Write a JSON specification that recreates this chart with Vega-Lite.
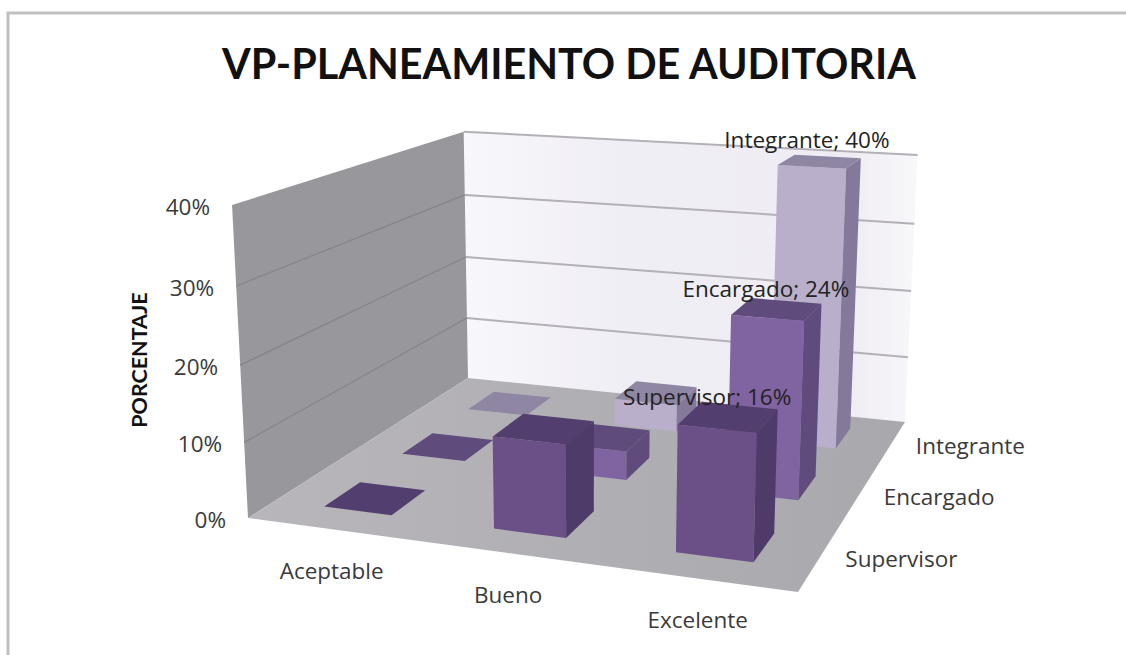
{
  "$schema": "https://vega.github.io/schema/vega-lite/v6.json",
  "autosize": "none",
  "width": 1123,
  "height": 647,
  "padding": {"left": 8, "top": 13, "right": -5, "bottom": -5},
  "background": "white",
  "view": {"stroke": "#c0c0c0", "strokeWidth": 3, "fill": "white"},
  "title": {"text": "VP-PLANEAMIENTO DE AUDITORIA", "anchor": "start", "frame": "group", "offset": -74, "dx": 214, "fontSize": 41.3, "font": "Lato", "fontWeight": "bold", "color": "#111111"},
  "datasets": {
    "barras": [
      {"categoria": "Aceptable", "serie": "Integrante", "valor": 0},
      {"categoria": "Bueno", "serie": "Integrante", "valor": 4},
      {"categoria": "Excelente", "serie": "Integrante", "valor": 40},
      {"categoria": "Aceptable", "serie": "Encargado", "valor": 0},
      {"categoria": "Bueno", "serie": "Encargado", "valor": 4},
      {"categoria": "Excelente", "serie": "Encargado", "valor": 24},
      {"categoria": "Aceptable", "serie": "Supervisor", "valor": 0},
      {"categoria": "Bueno", "serie": "Supervisor", "valor": 12},
      {"categoria": "Excelente", "serie": "Supervisor", "valor": 16}
    ],
    "planos": [
      {"plano": "izquierda", "punto": 0, "U": 0, "V": 0, "H": 0},
      {"plano": "izquierda", "punto": 1, "U": 0, "V": 1, "H": 0},
      {"plano": "izquierda", "punto": 2, "U": 0, "V": 1, "H": 1},
      {"plano": "izquierda", "punto": 3, "U": 0, "V": 0, "H": 1},
      {"plano": "fondo", "punto": 0, "U": 0, "V": 1, "H": 0},
      {"plano": "fondo", "punto": 1, "U": 1, "V": 1, "H": 0},
      {"plano": "fondo", "punto": 2, "U": 1, "V": 1, "H": 1},
      {"plano": "fondo", "punto": 3, "U": 0, "V": 1, "H": 1},
      {"plano": "piso", "punto": 0, "U": 0, "V": 0, "H": 0},
      {"plano": "piso", "punto": 1, "U": 1, "V": 0, "H": 0},
      {"plano": "piso", "punto": 2, "U": 1, "V": 1, "H": 0},
      {"plano": "piso", "punto": 3, "U": 0, "V": 1, "H": 0}
    ],
    "niveles": [
      {"nivel": 0, "etiqueta": "0%"},
      {"nivel": 10, "etiqueta": "10%"},
      {"nivel": 20, "etiqueta": "20%"},
      {"nivel": 30, "etiqueta": "30%"},
      {"nivel": 40, "etiqueta": "40%"}
    ]
  },
  "encoding": {
    "x": {"field": "px", "type": "quantitative", "axis": null, "scale": {"domain": [8, 1131], "nice": false, "zero": false}},
    "y": {"field": "py", "type": "quantitative", "axis": null, "scale": {"domain": [660, 13], "nice": false, "zero": false}}
  },
  "layer": [
    {
      "data": {"name": "planos"},
      "transform": [
        {"filter": "datum.plano == 'fondo'"},
        {"calculate": "1-0.103*datum.U+0.2838*datum.V-0.045*datum.H", "as": "w"},
        {"calculate": "(467.8*datum.U+352.8*datum.V-26.4*datum.H+248)/datum.w", "as": "px"},
        {"calculate": "(13*datum.U-32.7*datum.V-322.2*datum.H+518)/datum.w", "as": "py"}
      ],
      "mark": {"type": "line", "strokeWidth": 0, "fill": {"gradient": "linear", "x1": 0, "y1": 0, "x2": 1, "y2": 0, "stops": [{"offset": 0, "color": "#f8f7fb"}, {"offset": 0.35, "color": "#f0eef5"}, {"offset": 0.85, "color": "#efedf3"}, {"offset": 1, "color": "#f8f7fa"}]}},
      "encoding": {"order": {"field": "punto", "type": "quantitative"}}
    },
    {
      "data": {"name": "planos"},
      "transform": [
        {"filter": "datum.plano == 'izquierda'"},
        {"calculate": "1-0.103*datum.U+0.2838*datum.V-0.045*datum.H", "as": "w"},
        {"calculate": "(467.8*datum.U+352.8*datum.V-26.4*datum.H+248)/datum.w", "as": "px"},
        {"calculate": "(13*datum.U-32.7*datum.V-322.2*datum.H+518)/datum.w", "as": "py"}
      ],
      "mark": {"type": "line", "strokeWidth": 0, "fill": "#98979b"},
      "encoding": {"order": {"field": "punto", "type": "quantitative"}}
    },
    {
      "data": {"name": "planos"},
      "transform": [
        {"filter": "datum.plano == 'piso'"},
        {"calculate": "1-0.103*datum.U+0.2838*datum.V-0.045*datum.H", "as": "w"},
        {"calculate": "(467.8*datum.U+352.8*datum.V-26.4*datum.H+248)/datum.w", "as": "px"},
        {"calculate": "(13*datum.U-32.7*datum.V-322.2*datum.H+518)/datum.w", "as": "py"}
      ],
      "mark": {"type": "line", "strokeWidth": 0, "fill": {"gradient": "linear", "x1": 0, "y1": 0, "x2": 1, "y2": 0, "stops": [{"offset": 0, "color": "#b8b6bb"}, {"offset": 1, "color": "#a9a8ac"}]}},
      "encoding": {"order": {"field": "punto", "type": "quantitative"}}
    },
    {
      "data": {"name": "niveles"},
      "transform": [
        {"filter": "datum.nivel > 0"},
        {"calculate": "[0,1]", "as": "extremos"},
        {"flatten": ["extremos"], "as": ["extremo"]},
        {"calculate": "datum.nivel/40", "as": "H"},
        {"calculate": "datum.extremo", "as": "U"},
        {"calculate": "1-0.103*datum.U+0.2838-0.045*datum.H", "as": "w"},
        {"calculate": "(467.8*datum.U+352.8-26.4*datum.H+248)/datum.w", "as": "px"},
        {"calculate": "(13*datum.U-32.7-322.2*datum.H+518)/datum.w", "as": "py"}
      ],
      "mark": {"type": "line", "stroke": "#b3b0b8", "strokeWidth": 2},
      "encoding": {"detail": {"field": "nivel"}, "order": {"field": "extremo", "type": "quantitative"}}
    },
    {
      "data": {"name": "niveles"},
      "transform": [
        {"filter": "datum.nivel > 0 && datum.nivel < 40"},
        {"calculate": "[0,1]", "as": "extremos"},
        {"flatten": ["extremos"], "as": ["extremo"]},
        {"calculate": "datum.nivel/40", "as": "H"},
        {"calculate": "datum.extremo", "as": "V"},
        {"calculate": "1+0.2838*datum.V-0.045*datum.H", "as": "w"},
        {"calculate": "(352.8*datum.V-26.4*datum.H+248)/datum.w", "as": "px"},
        {"calculate": "(-32.7*datum.V-322.2*datum.H+518)/datum.w", "as": "py"}
      ],
      "mark": {"type": "line", "stroke": "#848387", "strokeWidth": 1.2},
      "encoding": {"detail": {"field": "nivel"}, "order": {"field": "extremo", "type": "quantitative"}}
    },
    {
      "data": {"name": "barras"},
      "transform": [
        {"calculate": "(indexof(['Aceptable','Bueno','Excelente'],datum.categoria)+0.5)/3", "as": "uc"},
        {"calculate": "(indexof(['Supervisor','Encargado','Integrante'],datum.serie)+0.5)/3+0.008", "as": "vc"},
        {"calculate": "datum.uc-0.0675", "as": "u0"},
        {"calculate": "datum.uc+0.0675", "as": "u1"},
        {"calculate": "datum.vc-0.073", "as": "v0"},
        {"calculate": "datum.vc+0.073", "as": "v1"},
        {"calculate": "datum.valor/40", "as": "alto"},
        {"calculate": "['frontal','lateral','superior']", "as": "caras"},
        {"flatten": ["caras"], "as": ["cara"]},
        {"calculate": "[0,1,2,3]", "as": "esquinas"},
        {"flatten": ["esquinas"], "as": ["esquina"]},
        {"calculate": "datum.cara=='lateral' ? datum.u1 : [datum.u0,datum.u1,datum.u1,datum.u0][datum.esquina]", "as": "U"},
        {"calculate": "datum.cara=='frontal' ? datum.v0 : datum.cara=='lateral' ? [datum.v0,datum.v1,datum.v1,datum.v0][datum.esquina] : [datum.v0,datum.v0,datum.v1,datum.v1][datum.esquina]", "as": "V"},
        {"calculate": "datum.cara=='superior' ? datum.alto : (datum.esquina>=2 ? datum.alto : 0)", "as": "H"},
        {"calculate": "1-0.103*datum.U+0.2838*datum.V-0.045*datum.H", "as": "w"},
        {"calculate": "(467.8*datum.U+352.8*datum.V-26.4*datum.H+248)/datum.w", "as": "px"},
        {"calculate": "(13*datum.U-32.7*datum.V-322.2*datum.H+518)/datum.w", "as": "py"},
        {"calculate": "datum.serie+' '+datum.cara", "as": "tono"},
        {"calculate": "datum.serie+' '+datum.categoria+' '+datum.cara", "as": "cara_id"}
      ],
      "mark": {"type": "line", "strokeWidth": 0, "fill": "#888888"},
      "encoding": {
        "detail": {"field": "cara_id"},
        "order": {"field": "esquina", "type": "quantitative"},
        "fill": {
          "field": "tono", "type": "nominal", "legend": null,
          "scale": {
            "domain": ["Supervisor frontal", "Supervisor lateral", "Supervisor superior", "Encargado frontal", "Encargado lateral", "Encargado superior", "Integrante frontal", "Integrante lateral", "Integrante superior"],
            "range": ["#6b5088", "#4f3b69", "#533f6f", "#8064a2", "#5f4b7c", "#5f4b7c", "#b9afcb", "#84799a", "#8f86a3"]
          }
        }
      }
    },
    {
      "data": {"name": "niveles"},
      "transform": [
        {"calculate": "datum.nivel/40", "as": "H"},
        {"calculate": "1-0.045*datum.H", "as": "w"},
        {"calculate": "(-26.4*datum.H+248)/datum.w", "as": "px"},
        {"calculate": "(-322.2*datum.H+518)/datum.w", "as": "py"}
      ],
      "mark": {"type": "text", "align": "right", "baseline": "middle", "dx": -22, "dy": 3, "font": "Open Sans", "fontSize": 22.5, "color": "#3a3a3a"},
      "encoding": {"text": {"field": "etiqueta"}}
    },
    {
      "data": {"values": [{"titulo": "PORCENTAJE"}]},
      "transform": [
        {"calculate": "0.5", "as": "H"},
        {"calculate": "1-0.045*datum.H", "as": "w"},
        {"calculate": "(-26.4*datum.H+248)/datum.w", "as": "px"},
        {"calculate": "(-322.2*datum.H+518)/datum.w", "as": "py"}
      ],
      "mark": {"type": "text", "angle": 270, "align": "center", "baseline": "middle", "dx": 5, "dy": -99, "font": "Lato", "fontWeight": "bold", "fontSize": 21.5, "color": "#111111"},
      "encoding": {"text": {"field": "titulo"}}
    },
    {
      "data": {"values": [{"categoria": "Aceptable"}, {"categoria": "Bueno"}, {"categoria": "Excelente"}]},
      "transform": [
        {"calculate": "(indexof(['Aceptable','Bueno','Excelente'],datum.categoria)+0.5)/3", "as": "U"},
        {"calculate": "1-0.103*datum.U", "as": "w"},
        {"calculate": "(467.8*datum.U+248)/datum.w", "as": "px"},
        {"calculate": "(13*datum.U+518)/datum.w", "as": "py"}
      ],
      "mark": {"type": "text", "align": "center", "baseline": "middle", "dy": 43, "font": "Open Sans", "fontSize": 22.5, "color": "#3a3a3a"},
      "encoding": {"text": {"field": "categoria"}}
    },
    {
      "data": {"values": [{"serie": "Supervisor"}, {"serie": "Encargado"}, {"serie": "Integrante"}]},
      "transform": [
        {"calculate": "(indexof(['Supervisor','Encargado','Integrante'],datum.serie)+0.5)/3", "as": "V"},
        {"calculate": "0.897+0.2838*datum.V", "as": "w"},
        {"calculate": "(467.8+352.8*datum.V+248)/datum.w", "as": "px"},
        {"calculate": "(13-32.7*datum.V+518)/datum.w", "as": "py"}
      ],
      "mark": {"type": "text", "align": "left", "baseline": "middle", "dx": 25, "dy": 3, "font": "Open Sans", "fontSize": 22.5, "color": "#3a3a3a"},
      "encoding": {"text": {"field": "serie"}}
    },
    {
      "data": {"name": "barras"},
      "transform": [
        {"filter": "datum.categoria == 'Excelente'"},
        {"calculate": "(indexof(['Aceptable','Bueno','Excelente'],datum.categoria)+0.5)/3", "as": "U"},
        {"calculate": "(indexof(['Supervisor','Encargado','Integrante'],datum.serie)+0.5)/3", "as": "V"},
        {"calculate": "datum.valor/40", "as": "H"},
        {"calculate": "1-0.103*datum.U+0.2838*datum.V-0.045*datum.H", "as": "w"},
        {"calculate": "(467.8*datum.U+352.8*datum.V-26.4*datum.H+248)/datum.w + ({'Integrante':-12,'Encargado':-10,'Supervisor':-20})[datum.serie]", "as": "px"},
        {"calculate": "(13*datum.U-32.7*datum.V-322.2*datum.H+518)/datum.w + ({'Integrante':-21,'Encargado':-20,'Supervisor':-20})[datum.serie]", "as": "py"},
        {"calculate": "datum.serie + '; ' + datum.valor + '%'", "as": "rotulo"}
      ],
      "mark": {"type": "text", "align": "center", "baseline": "middle", "font": "Open Sans", "fontSize": 22.5, "color": "#222222"},
      "encoding": {"text": {"field": "rotulo"}}
    }
  ]
}
